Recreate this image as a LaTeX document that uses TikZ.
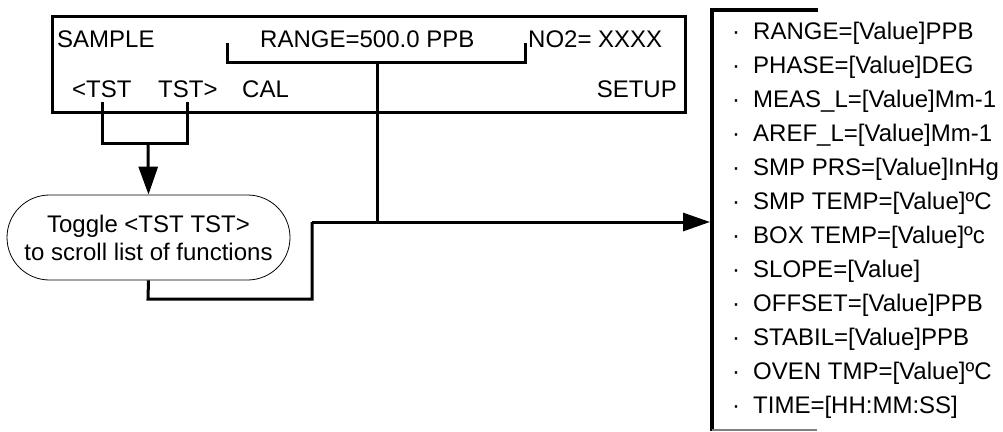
\documentclass[tikz,border=0pt]{standalone}
\usepackage{fontspec}
\setmainfont{Liberation Sans}
\usetikzlibrary{arrows.meta,shapes.misc}
\begin{document}
\begin{tikzpicture}[x=1pt,y=-1pt,
  txt/.style={inner sep=0pt,anchor=base west,font=\fontsize{24}{28}\selectfont},
  wire/.style={line width=3pt},
  head/.style={-{Triangle[length=28pt,width=19pt]}},
  panel/.style={draw,line width=2.5pt,inner sep=0pt,minimum width=633pt,minimum height=96pt,anchor=north west},
  pill/.style={draw,line width=0.8pt,rounded rectangle,minimum width=283pt,minimum height=85pt,inner sep=0pt,align=center,font=\fontsize{24}{28}\selectfont}
]
\useasboundingbox (0,0) rectangle (1003,431);

% display panel
\node[panel] (display) at (51,15) {};
\node[txt] (sample) at (57,47) {SAMPLE};
\node[txt] (range) at (260,47) {RANGE=500.0 PPB};
\node[txt] (no2) at (528,47) {NO2= XXXX};
\node[txt] (tstl) at (72,97) {<TST};
\node[txt] (tstr) at (158,97) {TST>};
\node[txt] (cal) at (242,97) {CAL};
\node[txt,anchor=base east] (setup) at (677,97) {SETUP};

% toggle pill
\node[pill] (toggle) at (148.5,237.5) {Toggle <TST TST>\\to scroll list of functions};

% coordinates
\coordinate (bl) at (102.5,102);
\coordinate (br) at (187.5,102);
\coordinate (join1) at (148,143);
\coordinate (rl) at (227,43);
\coordinate (rr) at (525,43);
\coordinate (rmid) at (377,62);
\coordinate (low) at (148,299);
\coordinate (turn) at (312,222);
\coordinate (tip) at (710,222);
\coordinate (ltop) at (712,10);
\coordinate (lbot) at (712,431);
\coordinate (ltopr) at (818,10);
\coordinate (lbotl) at (712,430);
\coordinate (lbotr) at (817,430);

% connectors
\draw[wire] (bl) |- (join1) -| (br);
\draw[wire,head] (join1) -- (toggle.north);
\draw[wire] (rl) |- (rmid) -| (rr);
\draw[wire] (rmid) -- (rmid |- tip);
\draw[wire] (toggle.south) -- (low) -| (turn);
\draw[wire,head,-{Triangle[length=27pt,width=18pt]}] (turn) -- (tip);

% list bracket
\draw[line width=4pt] (ltopr) -- (ltop) -- (lbot);
\draw[line width=1.5pt,gray] (lbotl) -- (lbotr);

% list items
\foreach \i/\t in {0/{RANGE=[Value]PPB},1/{PHASE=[Value]DEG},2/{MEAS\_L=[Value]Mm-1},3/{AREF\_L=[Value]Mm-1},4/{SMP PRS=[Value]InHg},5/{SMP TEMP=[Value]ºC},6/{BOX TEMP=[Value]ºc},7/{SLOPE=[Value]},8/{OFFSET=[Value]PPB},9/{STABIL=[Value]PPB},10/{OVEN TMP=[Value]ºC},11/{TIME=[HH:MM:SS]}}{
  \node[txt] (dot\i) at (732,39+34*\i) {·};
  \node[txt] (item\i) at (753,39+34*\i) {\t};
}
\end{tikzpicture}
\end{document}
